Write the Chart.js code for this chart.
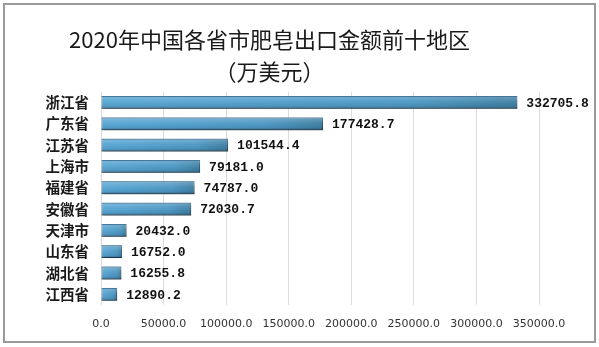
<!DOCTYPE html>
<html>
<head>
<meta charset="utf-8">
<script src="https://cdn.jsdelivr.net/npm/chart.js@4/dist/chart.umd.min.js"></script>
<style>
  html, body { margin: 0; padding: 0; background: #ffffff; }
  #wrap { position: relative; width: 599px; height: 347px; }
</style>
</head>
<body>
<div id="wrap"><canvas id="c" width="599" height="347"></canvas></div>
<script>
// 2020年各省市肥皂出口金额（万美元）
const titleLines = ['2020年中国各省市肥皂出口金额前十地区', '（万美元）'];
const regions = ['浙江省', '广东省', '江苏省', '上海市', '福建省', '安徽省', '天津市', '山东省', '湖北省', '江西省'];
const exportValues = [332705.8, 177428.7, 101544.4, 79181.0, 74787.0, 72030.7, 20432.0, 16752.0, 16255.8, 12890.2];
const axisMin = 0;
const axisMax = 350000;
const axisStep = 50000;

// per-bar horizontal gradient: lighter at the base, deeper toward the tip
function barFill(ctx) {
  const chart = ctx.chart;
  const xs = chart.scales.x;
  if (!chart.chartArea || !xs) return '#4d9bc9';
  const x0 = xs.getPixelForValue(0);
  const x1 = xs.getPixelForValue(ctx.raw);
  const g = chart.ctx.createLinearGradient(x0, 0, Math.max(x1, x0 + 1), 0);
  g.addColorStop(0, '#56a6d4');
  g.addColorStop(0.75, '#4b96c2');
  g.addColorStop(1, '#3d7ea3');
  return g;
}

// outer frame of the figure
const framePlugin = {
  id: 'frame',
  beforeDraw(chart) {
    const c = chart.ctx;
    c.save();
    c.fillStyle = '#ffffff';
    c.fillRect(0, 0, chart.width, chart.height);
    c.strokeStyle = '#9a9a9a';
    c.lineWidth = 2;
    c.strokeRect(4, 4, 591, 338);
    c.restore();
  }
};

// soft drop shadow under the bars
const shadowPlugin = {
  id: 'barShadow',
  beforeDatasetsDraw(chart) {
    const c = chart.ctx;
    c.save();
    c.shadowColor = 'rgba(0,0,0,0.35)';
    c.shadowBlur = 2;
    c.shadowOffsetX = 1.5;
    c.shadowOffsetY = 1.5;
  },
  afterDatasetsDraw(chart) {
    chart.ctx.restore();
  }
};

// rounded sheen on each bar plus the value label at its tip
const barDecor = {
  id: 'barDecor',
  afterDatasetsDraw(chart) {
    const c = chart.ctx;
    const meta = chart.getDatasetMeta(0);
    const values = chart.data.datasets[0].data;
    c.save();
    meta.data.forEach((bar, i) => {
      const top = bar.y - bar.height / 2;
      const left = bar.base;
      const w = bar.x - bar.base;
      const g = c.createLinearGradient(0, top, 0, top + bar.height);
      g.addColorStop(0, 'rgba(40,90,125,0.45)');
      g.addColorStop(0.15, 'rgba(255,255,255,0.18)');
      g.addColorStop(0.45, 'rgba(255,255,255,0.05)');
      g.addColorStop(0.8, 'rgba(0,0,0,0.06)');
      g.addColorStop(1, 'rgba(0,0,0,0.35)');
      c.fillStyle = g;
      c.fillRect(left, top, w, bar.height);

      c.fillStyle = '#111111';
      c.font = 'bold 13px "Liberation Mono", "DejaVu Sans Mono", monospace';
      c.textAlign = 'left';
      c.textBaseline = 'middle';
      c.fillText(values[i].toFixed(1), bar.x + 9, bar.y + 1);
    });
    c.restore();
  }
};

new Chart(document.getElementById('c'), {
  type: 'bar',
  data: {
    labels: regions,
    datasets: [{
      data: exportValues,
      backgroundColor: barFill,
      borderColor: '#3b7298',
      borderWidth: 1,
      borderSkipped: false,
      categoryPercentage: 1,
      barPercentage: 0.6
    }]
  },
  options: {
    indexAxis: 'y',
    responsive: false,
    animation: false,
    devicePixelRatio: 1,
    layout: { padding: { left: 0, right: 60, top: 0, bottom: 4 } },
    plugins: {
      legend: { display: false },
      tooltip: { enabled: false },
      title: {
        display: true,
        text: titleLines,
        color: '#1a1a1a',
        font: { family: '"Noto Sans CJK SC", "Noto Sans", sans-serif', size: 22, weight: 'normal', lineHeight: 1.45 },
        padding: { top: 24, bottom: 4 }
      }
    },
    scales: {
      x: {
        min: axisMin,
        max: axisMax,
        border: { display: false },
        grid: { color: '#dcdcdc', lineWidth: 1, drawTicks: false },
        ticks: {
          stepSize: axisStep,
          padding: 13,
          color: '#333333',
          font: { family: '"DejaVu Sans", sans-serif', size: 11 },
          callback: v => Number(v).toFixed(1)
        },
        afterFit(scale) { scale.height = 38; }
      },
      y: {
        border: { display: false },
        grid: { display: false, drawTicks: false },
        ticks: {
          padding: 12,
          color: '#1a1a1a',
          font: { family: '"Noto Sans CJK SC", sans-serif', size: 14.5, weight: 'bold' }
        },
        afterFit(scale) { scale.width = 101; }
      }
    }
  },
  plugins: [framePlugin, shadowPlugin, barDecor]
});
</script>
</body>
</html>
